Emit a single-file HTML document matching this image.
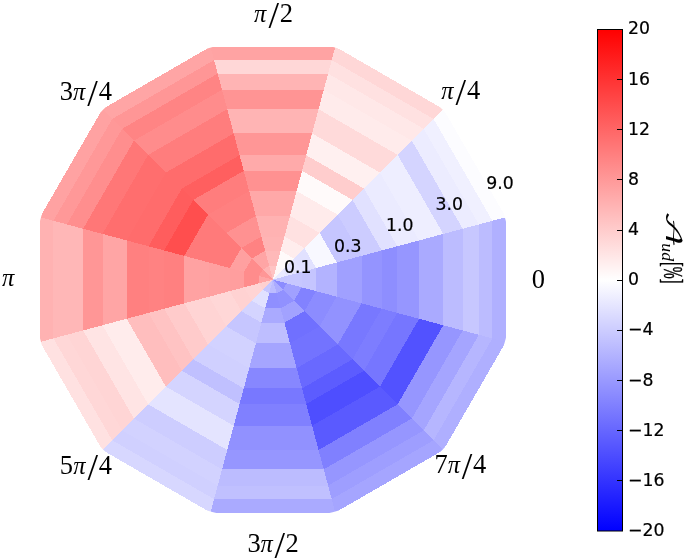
<!DOCTYPE html>
<html lang="en">
<head>
<meta charset="utf-8">
<title>A_ud polar map</title>
<style>
html,body{margin:0;padding:0;background:#fff;}
body{width:685px;height:559px;overflow:hidden;}
svg{display:block;}
.th{font-family:"Liberation Serif","DejaVu Serif",serif;font-size:26.5px;fill:#000;}
.th .pi{font-style:italic;font-size:24.5px;}
.th .sl{font-size:38px;}
.rl{font-family:"DejaVu Sans","Liberation Sans",sans-serif;font-size:17.3px;fill:#000;stroke:#000;stroke-width:0.2px;}
.cl{font-family:"Liberation Serif","DejaVu Serif",serif;font-size:25px;fill:#000;}
</style>
</head>
<body>
<svg width="685" height="559" viewBox="0 0 685 559">
<defs>
<linearGradient id="bwr" x1="0" y1="0" x2="0" y2="1">
<stop offset="0" stop-color="#ff0000"/>
<stop offset="0.5" stop-color="#ffffff"/>
<stop offset="1" stop-color="#0000ff"/>
</linearGradient>
<clipPath id="axc"><circle cx="272.9" cy="279.6" r="240.2"/></clipPath>
</defs>
<rect x="0" y="0" width="685" height="559" fill="#ffffff"/>
<g shape-rendering="crispEdges" clip-path="url(#axc)">
<polygon points="505.80,342.01 505.80,217.19 272.90,279.60" fill="#b0b0ff"/>
<polygon points="492.40,338.41 492.40,220.79 272.90,279.60" fill="#bcbcff"/>
<polygon points="478.90,334.80 478.90,224.40 272.90,279.60" fill="#c7c7ff"/>
<polygon points="462.70,330.46 462.70,228.74 272.90,279.60" fill="#bcbcff"/>
<polygon points="443.30,325.26 443.30,233.94 272.90,279.60" fill="#aaaaff"/>
<polygon points="419.10,318.77 419.10,240.43 272.90,279.60" fill="#9696ff"/>
<polygon points="397.30,312.93 397.30,246.27 272.90,279.60" fill="#8e8eff"/>
<polygon points="381.70,308.75 381.70,250.45 272.90,279.60" fill="#9494ff"/>
<polygon points="361.50,303.34 361.50,255.86 272.90,279.60" fill="#a0a0ff"/>
<polygon points="336.70,296.70 336.70,262.50 272.90,279.60" fill="#b3b3ff"/>
<polygon points="316.00,291.15 316.00,268.05 272.90,279.60" fill="#c5c5ff"/>
<polygon points="301.70,287.32 301.70,271.88 272.90,279.60" fill="#c7c7ff"/>
<polygon points="286.70,283.30 286.70,275.90 272.90,279.60" fill="#c6c6ff"/>
<polygon points="505.80,217.19 443.39,109.11 272.90,279.60" fill="#fcfcff"/>
<polygon points="492.40,220.79 433.59,118.91 272.90,279.60" fill="#f0f0ff"/>
<polygon points="478.90,224.40 423.70,128.80 272.90,279.60" fill="#ececff"/>
<polygon points="462.70,228.74 411.84,140.66 272.90,279.60" fill="#d4d4ff"/>
<polygon points="443.30,233.94 397.64,154.86 272.90,279.60" fill="#eeeeff"/>
<polygon points="419.10,240.43 379.93,172.57 272.90,279.60" fill="#ebebff"/>
<polygon points="397.30,246.27 363.97,188.53 272.90,279.60" fill="#e1e1ff"/>
<polygon points="381.70,250.45 352.55,199.95 272.90,279.60" fill="#ccccff"/>
<polygon points="361.50,255.86 337.76,214.74 272.90,279.60" fill="#c6c6ff"/>
<polygon points="336.70,262.50 319.60,232.90 272.90,279.60" fill="#f8f8ff"/>
<polygon points="316.00,268.05 304.45,248.05 272.90,279.60" fill="#e1e1ff"/>
<polygon points="301.70,271.88 293.98,258.52 272.90,279.60" fill="#e4e4ff"/>
<polygon points="286.70,275.90 283.00,269.50 272.90,279.60" fill="#ebebff"/>
<polygon points="443.39,109.11 335.31,46.70 272.90,279.60" fill="#ffd7d7"/>
<polygon points="433.59,118.91 331.71,60.10 272.90,279.60" fill="#ffe1e1"/>
<polygon points="423.70,128.80 328.10,73.60 272.90,279.60" fill="#ffe8e8"/>
<polygon points="411.84,140.66 323.76,89.80 272.90,279.60" fill="#ffebeb"/>
<polygon points="397.64,154.86 318.56,109.20 272.90,279.60" fill="#ffdada"/>
<polygon points="379.93,172.57 312.07,133.40 272.90,279.60" fill="#fff0f0"/>
<polygon points="363.97,188.53 306.23,155.20 272.90,279.60" fill="#ffcdcd"/>
<polygon points="352.55,199.95 302.05,170.80 272.90,279.60" fill="#fffafa"/>
<polygon points="337.76,214.74 296.64,191.00 272.90,279.60" fill="#ffebeb"/>
<polygon points="319.60,232.90 290.00,215.80 272.90,279.60" fill="#ffe1e1"/>
<polygon points="304.45,248.05 284.45,236.50 272.90,279.60" fill="#ffeded"/>
<polygon points="293.98,258.52 280.62,250.80 272.90,279.60" fill="#fffafa"/>
<polygon points="283.00,269.50 276.60,265.80 272.90,279.60" fill="#fff7f7"/>
<polygon points="335.31,46.70 210.49,46.70 272.90,279.60" fill="#ffa3a3"/>
<polygon points="331.71,60.10 214.09,60.10 272.90,279.60" fill="#ffd7d7"/>
<polygon points="328.10,73.60 217.70,73.60 272.90,279.60" fill="#ffb4b4"/>
<polygon points="323.76,89.80 222.04,89.80 272.90,279.60" fill="#ff9494"/>
<polygon points="318.56,109.20 227.24,109.20 272.90,279.60" fill="#ffb4b4"/>
<polygon points="312.07,133.40 233.73,133.40 272.90,279.60" fill="#ff9696"/>
<polygon points="306.23,155.20 239.57,155.20 272.90,279.60" fill="#ffaaaa"/>
<polygon points="302.05,170.80 243.75,170.80 272.90,279.60" fill="#ff9191"/>
<polygon points="296.64,191.00 249.16,191.00 272.90,279.60" fill="#ffa8a8"/>
<polygon points="290.00,215.80 255.80,215.80 272.90,279.60" fill="#ffb2b2"/>
<polygon points="284.45,236.50 261.35,236.50 272.90,279.60" fill="#ffb4b4"/>
<polygon points="280.62,250.80 265.18,250.80 272.90,279.60" fill="#ffb9b9"/>
<polygon points="276.60,265.80 269.20,265.80 272.90,279.60" fill="#ffc3c3"/>
<polygon points="210.49,46.70 102.41,109.11 272.90,279.60" fill="#ffa5a5"/>
<polygon points="214.09,60.10 112.21,118.91 272.90,279.60" fill="#ff9696"/>
<polygon points="217.70,73.60 122.10,128.80 272.90,279.60" fill="#ff8484"/>
<polygon points="222.04,89.80 133.96,140.66 272.90,279.60" fill="#ff8c8c"/>
<polygon points="227.24,109.20 148.16,154.86 272.90,279.60" fill="#ff7d7d"/>
<polygon points="233.73,133.40 165.87,172.57 272.90,279.60" fill="#ff6c6c"/>
<polygon points="239.57,155.20 181.83,188.53 272.90,279.60" fill="#ff5f5f"/>
<polygon points="243.75,170.80 193.25,199.95 272.90,279.60" fill="#ff7d7d"/>
<polygon points="249.16,191.00 208.04,214.74 272.90,279.60" fill="#ff8080"/>
<polygon points="255.80,215.80 226.20,232.90 272.90,279.60" fill="#ff9191"/>
<polygon points="261.35,236.50 241.35,248.05 272.90,279.60" fill="#ff8282"/>
<polygon points="265.18,250.80 251.82,258.52 272.90,279.60" fill="#ffa5a5"/>
<polygon points="269.20,265.80 262.80,269.50 272.90,279.60" fill="#ffb4b4"/>
<polygon points="102.41,109.11 40.00,217.19 272.90,279.60" fill="#ffa2a2"/>
<polygon points="112.21,118.91 53.40,220.79 272.90,279.60" fill="#ff9898"/>
<polygon points="122.10,128.80 66.90,224.40 272.90,279.60" fill="#ff8e8e"/>
<polygon points="133.96,140.66 83.10,228.74 272.90,279.60" fill="#ff7777"/>
<polygon points="148.16,154.86 102.50,233.94 272.90,279.60" fill="#ff6e6e"/>
<polygon points="165.87,172.57 126.70,240.43 272.90,279.60" fill="#ff6c6c"/>
<polygon points="181.83,188.53 148.50,246.27 272.90,279.60" fill="#ff5d5d"/>
<polygon points="193.25,199.95 164.10,250.45 272.90,279.60" fill="#ff4e4e"/>
<polygon points="208.04,214.74 184.30,255.86 272.90,279.60" fill="#ff7a7a"/>
<polygon points="226.20,232.90 209.10,262.50 272.90,279.60" fill="#ff7a7a"/>
<polygon points="241.35,248.05 229.80,268.05 272.90,279.60" fill="#ffa0a0"/>
<polygon points="251.82,258.52 244.10,271.88 272.90,279.60" fill="#ff8c8c"/>
<polygon points="262.80,269.50 259.10,275.90 272.90,279.60" fill="#ff9696"/>
<polygon points="40.00,217.19 40.00,342.01 272.90,279.60" fill="#ffb2b2"/>
<polygon points="53.40,220.79 53.40,338.41 272.90,279.60" fill="#ffb7b7"/>
<polygon points="66.90,224.40 66.90,334.80 272.90,279.60" fill="#ffb7b7"/>
<polygon points="83.10,228.74 83.10,330.46 272.90,279.60" fill="#ff9696"/>
<polygon points="102.50,233.94 102.50,325.26 272.90,279.60" fill="#ffa5a5"/>
<polygon points="126.70,240.43 126.70,318.77 272.90,279.60" fill="#ff8080"/>
<polygon points="148.50,246.27 148.50,312.93 272.90,279.60" fill="#ff8282"/>
<polygon points="164.10,250.45 164.10,308.75 272.90,279.60" fill="#ff8080"/>
<polygon points="184.30,255.86 184.30,303.34 272.90,279.60" fill="#ffa2a2"/>
<polygon points="209.10,262.50 209.10,296.70 272.90,279.60" fill="#ffa0a0"/>
<polygon points="229.80,268.05 229.80,291.15 272.90,279.60" fill="#ff9e9e"/>
<polygon points="244.10,271.88 244.10,287.32 272.90,279.60" fill="#ff8c8c"/>
<polygon points="259.10,275.90 259.10,283.30 272.90,279.60" fill="#ffa5a5"/>
<polygon points="40.00,342.01 102.41,450.09 272.90,279.60" fill="#ffe1e1"/>
<polygon points="53.40,338.41 112.21,440.29 272.90,279.60" fill="#ffd7d7"/>
<polygon points="66.90,334.80 122.10,430.40 272.90,279.60" fill="#ffd5d5"/>
<polygon points="83.10,330.46 133.96,418.54 272.90,279.60" fill="#ffe4e4"/>
<polygon points="102.50,325.26 148.16,404.34 272.90,279.60" fill="#ffecec"/>
<polygon points="126.70,318.77 165.87,386.63 272.90,279.60" fill="#ffbebe"/>
<polygon points="148.50,312.93 181.83,370.67 272.90,279.60" fill="#ffc3c3"/>
<polygon points="164.10,308.75 193.25,359.25 272.90,279.60" fill="#ffcbcb"/>
<polygon points="184.30,303.34 208.04,344.46 272.90,279.60" fill="#ffd4d4"/>
<polygon points="209.10,296.70 226.20,326.30 272.90,279.60" fill="#ffd7d7"/>
<polygon points="229.80,291.15 241.35,311.15 272.90,279.60" fill="#ffd2d2"/>
<polygon points="244.10,287.32 251.82,300.68 272.90,279.60" fill="#ffd4d4"/>
<polygon points="259.10,283.30 262.80,289.70 272.90,279.60" fill="#ffd0d0"/>
<polygon points="102.41,450.09 210.49,512.50 272.90,279.60" fill="#d7d7ff"/>
<polygon points="112.21,440.29 214.09,499.10 272.90,279.60" fill="#d0d0ff"/>
<polygon points="122.10,430.40 217.70,485.60 272.90,279.60" fill="#d2d2ff"/>
<polygon points="133.96,418.54 222.04,469.40 272.90,279.60" fill="#cdcdff"/>
<polygon points="148.16,404.34 227.24,450.00 272.90,279.60" fill="#e4e4ff"/>
<polygon points="165.87,386.63 233.73,425.80 272.90,279.60" fill="#d4d4ff"/>
<polygon points="181.83,370.67 239.57,404.00 272.90,279.60" fill="#c0c0ff"/>
<polygon points="193.25,359.25 243.75,388.40 272.90,279.60" fill="#d0d0ff"/>
<polygon points="208.04,344.46 249.16,368.20 272.90,279.60" fill="#d2d2ff"/>
<polygon points="226.20,326.30 255.80,343.40 272.90,279.60" fill="#c6c6ff"/>
<polygon points="241.35,311.15 261.35,322.70 272.90,279.60" fill="#d4d4ff"/>
<polygon points="251.82,300.68 265.18,308.40 272.90,279.60" fill="#e1e1ff"/>
<polygon points="262.80,289.70 269.20,293.40 272.90,279.60" fill="#c6c6ff"/>
<polygon points="210.49,512.50 335.31,512.50 272.90,279.60" fill="#aaaaff"/>
<polygon points="214.09,499.10 331.71,499.10 272.90,279.60" fill="#c0c0ff"/>
<polygon points="217.70,485.60 328.10,485.60 272.90,279.60" fill="#bcbcff"/>
<polygon points="222.04,469.40 323.76,469.40 272.90,279.60" fill="#9696ff"/>
<polygon points="227.24,450.00 318.56,450.00 272.90,279.60" fill="#9191ff"/>
<polygon points="233.73,425.80 312.07,425.80 272.90,279.60" fill="#8080ff"/>
<polygon points="239.57,404.00 306.23,404.00 272.90,279.60" fill="#7878ff"/>
<polygon points="243.75,388.40 302.05,388.40 272.90,279.60" fill="#8787ff"/>
<polygon points="249.16,368.20 296.64,368.20 272.90,279.60" fill="#a5a5ff"/>
<polygon points="255.80,343.40 290.00,343.40 272.90,279.60" fill="#bebeff"/>
<polygon points="261.35,322.70 284.45,322.70 272.90,279.60" fill="#aaaaff"/>
<polygon points="265.18,308.40 280.62,308.40 272.90,279.60" fill="#8f8fff"/>
<polygon points="269.20,293.40 276.60,293.40 272.90,279.60" fill="#bcbcff"/>
<polygon points="335.31,512.50 443.39,450.09 272.90,279.60" fill="#a5a5ff"/>
<polygon points="331.71,499.10 433.59,440.29 272.90,279.60" fill="#9e9eff"/>
<polygon points="328.10,485.60 423.70,430.40 272.90,279.60" fill="#9696ff"/>
<polygon points="323.76,469.40 411.84,418.54 272.90,279.60" fill="#8080ff"/>
<polygon points="318.56,450.00 397.64,404.34 272.90,279.60" fill="#5a5aff"/>
<polygon points="312.07,425.80 379.93,386.63 272.90,279.60" fill="#4e4eff"/>
<polygon points="306.23,404.00 363.97,370.67 272.90,279.60" fill="#5c5cff"/>
<polygon points="302.05,388.40 352.55,359.25 272.90,279.60" fill="#6969ff"/>
<polygon points="296.64,368.20 337.76,344.46 272.90,279.60" fill="#7373ff"/>
<polygon points="290.00,343.40 319.60,326.30 272.90,279.60" fill="#7070ff"/>
<polygon points="284.45,322.70 304.45,311.15 272.90,279.60" fill="#a2a2ff"/>
<polygon points="280.62,308.40 293.98,300.68 272.90,279.60" fill="#9191ff"/>
<polygon points="276.60,293.40 283.00,289.70 272.90,279.60" fill="#acacff"/>
<polygon points="443.39,450.09 505.80,342.01 272.90,279.60" fill="#afafff"/>
<polygon points="433.59,440.29 492.40,338.41 272.90,279.60" fill="#b6b6ff"/>
<polygon points="423.70,430.40 478.90,334.80 272.90,279.60" fill="#a5a5ff"/>
<polygon points="411.84,418.54 462.70,330.46 272.90,279.60" fill="#9696ff"/>
<polygon points="397.64,404.34 443.30,325.26 272.90,279.60" fill="#5252ff"/>
<polygon points="379.93,386.63 419.10,318.77 272.90,279.60" fill="#7676ff"/>
<polygon points="363.97,370.67 397.30,312.93 272.90,279.60" fill="#7d7dff"/>
<polygon points="352.55,359.25 381.70,308.75 272.90,279.60" fill="#7878ff"/>
<polygon points="337.76,344.46 361.50,303.34 272.90,279.60" fill="#9292ff"/>
<polygon points="319.60,326.30 336.70,296.70 272.90,279.60" fill="#8c8cff"/>
<polygon points="304.45,311.15 316.00,291.15 272.90,279.60" fill="#8282ff"/>
<polygon points="293.98,300.68 301.70,287.32 272.90,279.60" fill="#a0a0ff"/>
<polygon points="283.00,289.70 286.70,283.30 272.90,279.60" fill="#8c8cff"/>
</g>
<!-- theta labels -->
<g class="th">
<text text-anchor="middle"><tspan class="pi" x="260.20" y="21.70">π</tspan><tspan class="sl" x="273.85" y="27.70">/</tspan><tspan x="286.35" y="21.70">2</tspan></text>
<text text-anchor="middle"><tspan class="pi" x="447.30" y="99.20">π</tspan><tspan class="sl" x="460.75" y="105.20">/</tspan><tspan x="473.55" y="99.20">4</tspan></text>
<text text-anchor="middle"><tspan x="538.30" y="287.50">0</tspan></text>
<text text-anchor="middle"><tspan x="441.05" y="473.10">7</tspan><tspan class="pi" x="453.80" y="473.10">π</tspan><tspan class="sl" x="467.15" y="479.10">/</tspan><tspan x="479.55" y="473.10">4</tspan></text>
<text text-anchor="middle"><tspan x="254.05" y="552.10">3</tspan><tspan class="pi" x="266.55" y="552.10">π</tspan><tspan class="sl" x="279.85" y="558.10">/</tspan><tspan x="292.15" y="552.10">2</tspan></text>
<text text-anchor="middle"><tspan x="66.25" y="473.50">5</tspan><tspan class="pi" x="79.40" y="473.50">π</tspan><tspan class="sl" x="92.70" y="479.50">/</tspan><tspan x="105.40" y="473.50">4</tspan></text>
<text text-anchor="middle"><tspan class="pi" x="8.20" y="285.90">π</tspan></text>
<text text-anchor="middle"><tspan x="66.35" y="99.80">3</tspan><tspan class="pi" x="79.20" y="99.80">π</tspan><tspan class="sl" x="92.65" y="105.80">/</tspan><tspan x="105.45" y="99.80">4</tspan></text>
</g>
<!-- radial labels -->
<g class="rl">
<text x="283.9" y="272.6">0.1</text>
<text x="334.0" y="251.7">0.3</text>
<text x="385.9" y="230.7">1.0</text>
<text x="435.5" y="210.2">3.0</text>
<text x="486.2" y="189.3">9.0</text>
</g>
<!-- colorbar -->
<rect x="597.5" y="29.5" width="25" height="501.5" fill="url(#bwr)" stroke="#000" stroke-width="1"/>
<g stroke="#000" stroke-width="1" shape-rendering="crispEdges">
<line x1="616.5" x2="622.5" y1="79.5" y2="79.5"/>
<line x1="616.5" x2="622.5" y1="129.5" y2="129.5"/>
<line x1="616.5" x2="622.5" y1="179.5" y2="179.5"/>
<line x1="616.5" x2="622.5" y1="230.5" y2="230.5"/>
<line x1="616.5" x2="622.5" y1="280.5" y2="280.5"/>
<line x1="616.5" x2="622.5" y1="330.5" y2="330.5"/>
<line x1="616.5" x2="622.5" y1="380.5" y2="380.5"/>
<line x1="616.5" x2="622.5" y1="430.5" y2="430.5"/>
<line x1="616.5" x2="622.5" y1="480.5" y2="480.5"/>
</g>
<g class="rl">
<text x="628" y="33.9">20</text>
<text x="628" y="84.7">16</text>
<text x="628" y="134.8">12</text>
<text x="628" y="184.9">8</text>
<text x="628" y="235.1">4</text>
<text x="628" y="285.2">0</text>
<text x="628" y="335.4">−4</text>
<text x="628" y="385.6">−8</text>
<text x="628" y="435.7">−12</text>
<text x="628" y="485.8">−16</text>
<text x="628" y="536.0">−20</text>
</g>
<g class="cl" transform="translate(665.5,214) rotate(90)">
<text x="0" y="0" transform="translate(-3.5,0) scale(1.8,1)" style="font-family:'DejaVu Math TeX Gyre','DejaVu Serif','Liberation Serif',serif;font-size:19.5px">𝒜</text>
<text x="29.3" y="3.3" style="font-size:17.7px;font-style:italic">ud</text>
<text x="48" y="1.3" textLength="21.4" lengthAdjust="spacingAndGlyphs" style="font-size:27.7px;stroke:#000;stroke-width:0.5px">[%]</text>
</g>
</svg>
</body>
</html>
